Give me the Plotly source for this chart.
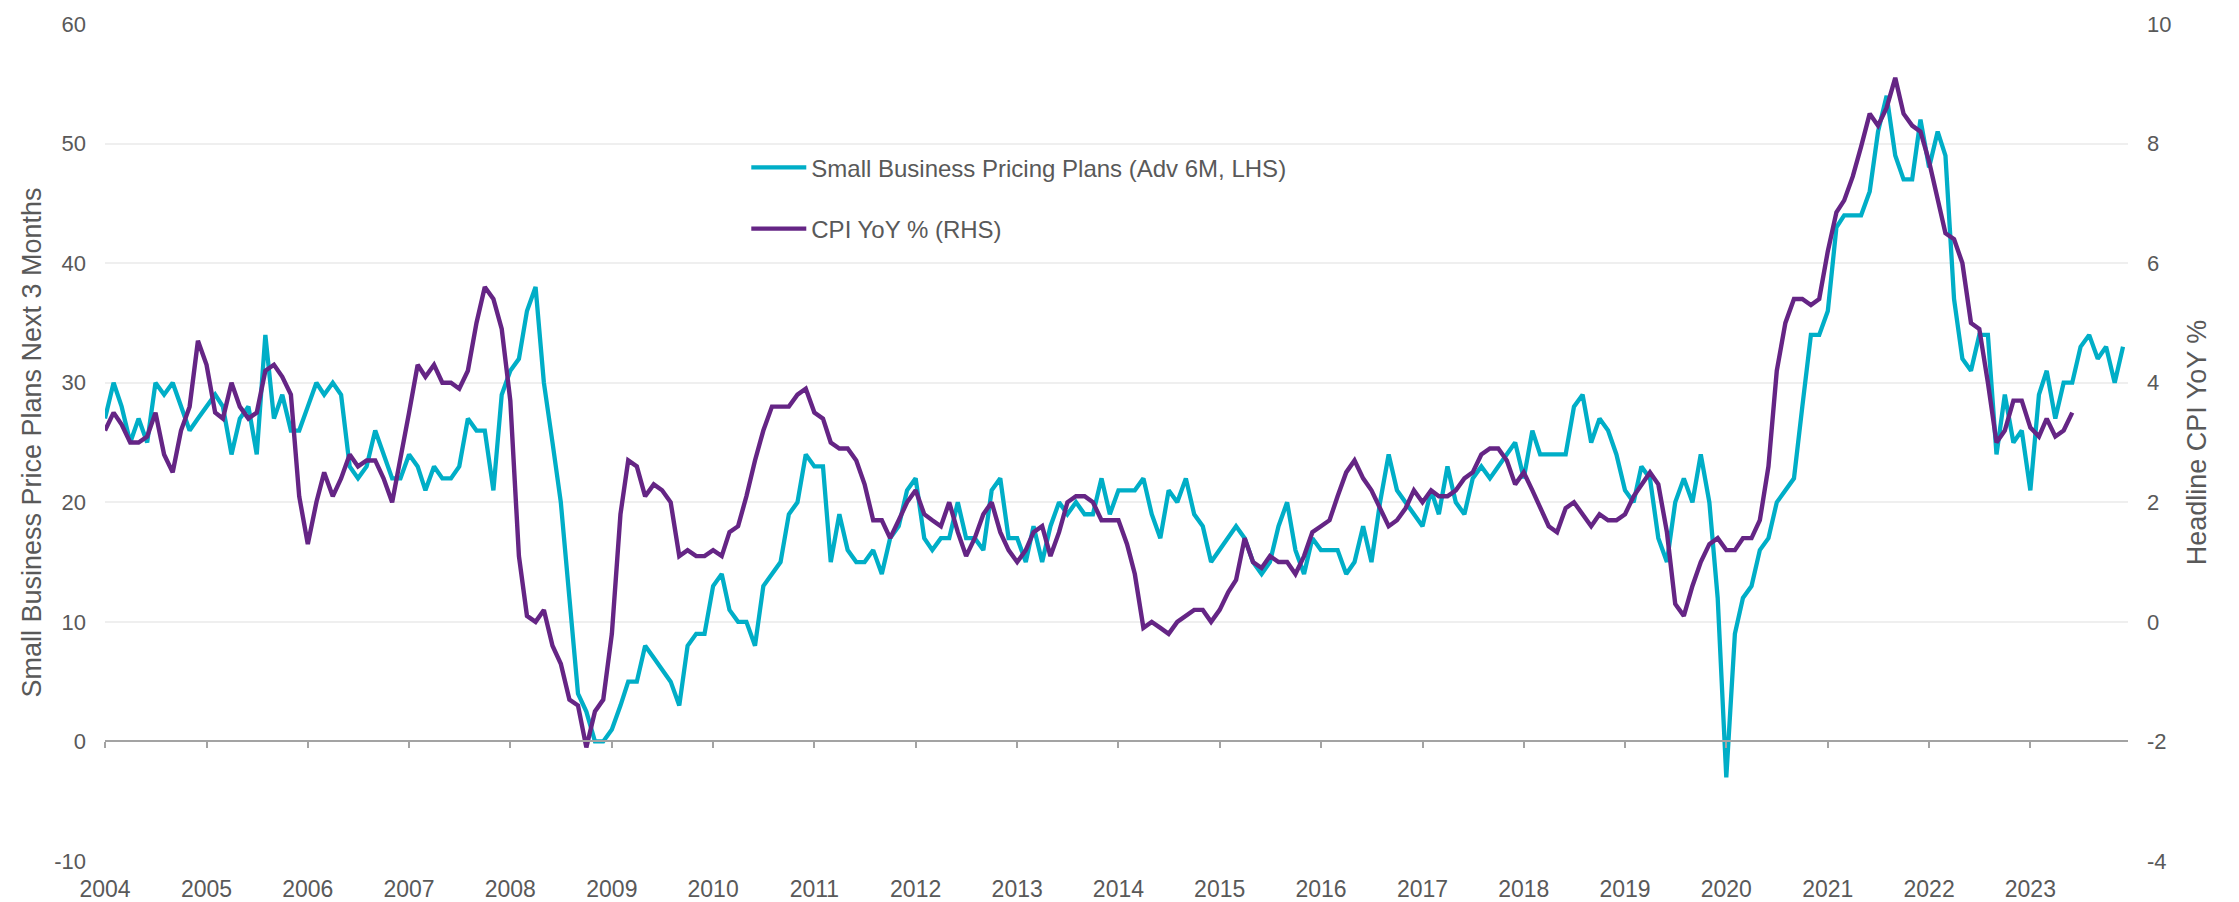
import pandas as pd
import plotly.graph_objects as go

# Monthly data, Jan 2004 onward
sb_pricing = [
    27, 30, 28, 25, 27, 25, 30, 29, 30, 28, 26, 27,
    28, 29, 28, 24, 27, 28, 24, 34, 27, 29, 26, 26,
    28, 30, 29, 30, 29, 23, 22, 23, 26, 24, 22, 22,
    24, 23, 21, 23, 22, 22, 23, 27, 26, 26, 21, 29,
    31, 32, 36, 38, 30, 25, 20, 12, 4, 2.5, 0, 0,
    1, 3, 5, 5, 8, 7, 6, 5, 3, 8, 9, 9,
    13, 14, 11, 10, 10, 8, 13, 14, 15, 19, 20, 24,
    23, 23, 15, 19, 16, 15, 15, 16, 14, 17, 18, 21,
    22, 17, 16, 17, 17, 20, 17, 17, 16, 21, 22, 17,
    17, 15, 18, 15, 18, 20, 19, 20, 19, 19, 22, 19,
    21, 21, 21, 22, 19, 17, 21, 20, 22, 19, 18, 15,
    16, 17, 18, 17, 15, 14, 15, 18, 20, 16, 14, 17,
    16, 16, 16, 14, 15, 18, 15, 20, 24, 21, 20, 19,
    18, 21, 19, 23, 20, 19, 22, 23, 22, 23, 24, 25,
    22, 26, 24, 24, 24, 24, 28, 29, 25, 27, 26, 24,
    21, 20, 23, 22, 17, 15, 20, 22, 20, 24, 20, 12,
    -3, 9, 12, 13, 16, 17, 20, 21, 22, 28, 34, 34,
    36, 43, 44, 44, 44, 46, 51, 54, 49, 47, 47, 52,
    48, 51, 49, 37, 32, 31, 34, 34, 24, 29, 25, 26,
    21, 29, 31, 27, 30, 30, 33, 34, 32, 33, 30, 33,
]

cpi_yoy = [
    3.2, 3.5, 3.3, 3.0, 3.0, 3.1, 3.5, 2.8, 2.5, 3.2, 3.6, 4.7,
    4.3, 3.5, 3.4, 4.0, 3.6, 3.4, 3.5, 4.2, 4.3, 4.1, 3.8, 2.1,
    1.3, 2.0, 2.5, 2.1, 2.4, 2.8, 2.6, 2.7, 2.7, 2.4, 2.0, 2.7,
    3.5, 4.3, 4.1, 4.3, 4.0, 4.0, 3.9, 4.2, 5.0, 5.6, 5.4, 4.9,
    3.7, 1.1, 0.1, 0.0, 0.2, -0.4, -0.7, -1.3, -1.4, -2.1, -1.5, -1.3,
    -0.2, 1.8, 2.7, 2.6, 2.1, 2.3, 2.2, 2.0, 1.1, 1.2, 1.1, 1.1,
    1.2, 1.1, 1.5, 1.6, 2.1, 2.7, 3.2, 3.6, 3.6, 3.6, 3.8, 3.9,
    3.5, 3.4, 3.0, 2.9, 2.9, 2.7, 2.3, 1.7, 1.7, 1.4, 1.7, 2.0,
    2.2, 1.8, 1.7, 1.6, 2.0, 1.5, 1.1, 1.4, 1.8, 2.0, 1.5, 1.2,
    1.0, 1.2, 1.5, 1.6, 1.1, 1.5, 2.0, 2.1, 2.1, 2.0, 1.7, 1.7,
    1.7, 1.3, 0.8, -0.1, 0.0, -0.1, -0.2, 0.0, 0.1, 0.2, 0.2, 0.0,
    0.2, 0.5, 0.7, 1.4, 1.0, 0.9, 1.1, 1.0, 1.0, 0.8, 1.1, 1.5,
    1.6, 1.7, 2.1, 2.5, 2.7, 2.4, 2.2, 1.9, 1.6, 1.7, 1.9, 2.2,
    2.0, 2.2, 2.1, 2.1, 2.2, 2.4, 2.5, 2.8, 2.9, 2.9, 2.7, 2.3,
    2.5, 2.2, 1.9, 1.6, 1.5, 1.9, 2.0, 1.8, 1.6, 1.8, 1.7, 1.7,
    1.8, 2.1, 2.3, 2.5, 2.3, 1.5, 0.3, 0.1, 0.6, 1.0, 1.3, 1.4,
    1.2, 1.2, 1.4, 1.4, 1.7, 2.6, 4.2, 5.0, 5.4, 5.4, 5.3, 5.4,
    6.2, 6.85, 7.05, 7.45, 7.95, 8.5, 8.3, 8.6, 9.1, 8.5, 8.3, 8.2,
    7.7, 7.1, 6.5, 6.4, 6.0, 5.0, 4.9, 4.0, 3.0, 3.2, 3.7, 3.7,
    3.25, 3.1, 3.4, 3.1, 3.2, 3.5,
]

# axis tick values / labels
lhs_ticks = [-10, 0, 10, 20, 30, 40, 50, 60]
lhs_labels = ["-10", "0", "10", "20", "30", "40", "50", "60"]
rhs_ticks = [-4, -2, 0, 2, 4, 6, 8, 10]
rhs_labels = ["-4", "-2", "0", "2", "4", "6", "8", "10"]

dates = pd.date_range("2004-01-01", periods=len(sb_pricing), freq="MS")
cpi_dates = dates[: len(cpi_yoy)]

sb_name = "Small Business Pricing Plans (Adv 6M, LHS)"
cpi_name = "CPI YoY % (RHS)"
lhs_title = "Small Business Price Plans Next 3 Months"
rhs_title = "Headline CPI YoY %"

CYAN = "#00AEC7"
PURPLE = "#652585"
GREY_TXT = "#595959"
FONT = "Liberation Sans, Arial, sans-serif"

fig = go.Figure()
fig.add_trace(go.Scatter(x=dates, y=sb_pricing, name=sb_name, mode="lines",
                         line=dict(color=CYAN, width=4.3), legendgroup="a"))
fig.add_trace(go.Scatter(x=cpi_dates, y=cpi_yoy, name=cpi_name, mode="lines",
                         line=dict(color=PURPLE, width=4.4), yaxis="y2", legendgroup="b"))
# carrier for the zero-line axis with tick marks
fig.add_trace(go.Scatter(x=[dates[0]], y=[None], xaxis="x2", yaxis="y",
                         showlegend=False, hoverinfo="skip"))

xrange = ["2004-01-01", "2023-12-19"]

fig.update_layout(
    width=2239, height=902, autosize=False,
    margin=dict(l=105, r=111, t=21, b=41),
    paper_bgcolor="white", plot_bgcolor="white",
    font=dict(family=FONT, color=GREY_TXT, size=22),
    showlegend=True,
    legend=dict(x=0.317, y=0.855, xanchor="left", yanchor="top",
                bgcolor="rgba(0,0,0,0)", font=dict(size=24, color=GREY_TXT),
                itemwidth=55, tracegroupgap=27, traceorder="grouped"),
    xaxis=dict(type="date", range=xrange, tick0="2004-01-01", dtick="M12",
               tickformat="%Y", showgrid=False, showline=False, zeroline=False,
               ticks="", ticklabelstandoff=12, automargin=False,
               tickfont=dict(size=23, color=GREY_TXT)),
    xaxis2=dict(type="date", range=xrange, overlaying="x", anchor="free",
                position=10 / 70, tick0="2004-01-01", dtick="M12",
                showline=True, linecolor="#A3A3A3", linewidth=2,
                ticks="outside", ticklen=6, tickwidth=2, tickcolor="#A3A3A3",
                showticklabels=False, showgrid=False, zeroline=False, automargin=False),
    yaxis=dict(range=[-10, 60], tickmode="array", tickvals=lhs_ticks, ticktext=lhs_labels,
               showgrid=True, gridcolor="#EFEFEF",
               gridwidth=1.5, zeroline=False, showline=False, ticks="",
               ticklabelstandoff=18,
               tickfont=dict(size=22, color=GREY_TXT),
               title=dict(text=lhs_title, font=dict(size=27, color=GREY_TXT), standoff=4)),
    yaxis2=dict(range=[-4, 10], tickmode="array", tickvals=rhs_ticks, ticktext=rhs_labels,
                overlaying="y", side="right",
                showgrid=False, zeroline=False, showline=False, ticks="",
                ticklabelstandoff=18,
                tickfont=dict(size=22, color=GREY_TXT),
                title=dict(text=rhs_title, font=dict(size=27, color=GREY_TXT), standoff=16)),
)

fig.write_html("out.html", config={"displayModeBar": False},
               post_script="document.body.style.margin='0';document.body.style.padding='0';")
